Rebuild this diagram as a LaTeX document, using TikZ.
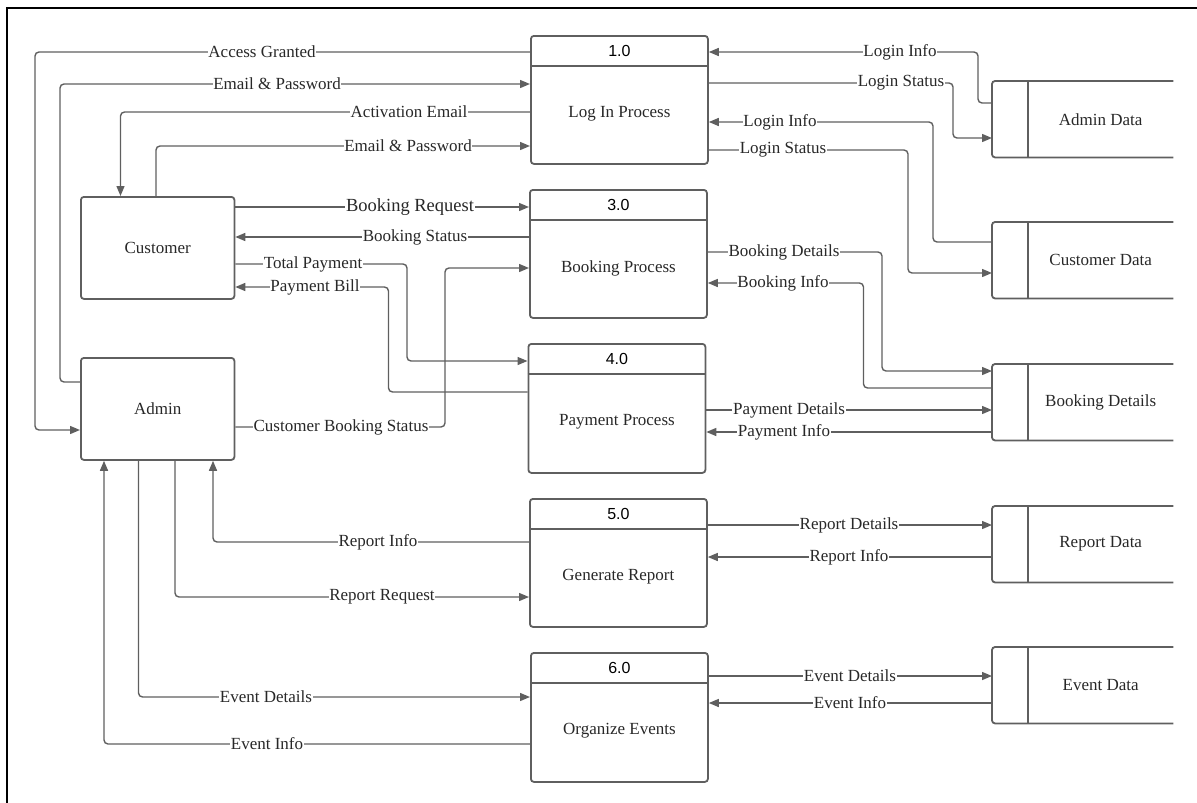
\documentclass[tikz,border=0pt]{standalone}
\usepackage{fontspec}
\setmainfont{Liberation Serif}
\newfontfamily\numfont{Liberation Sans}
\usetikzlibrary{arrows.meta,calc}
\definecolor{ln}{RGB}{95,95,95}
\definecolor{tx}{RGB}{40,40,40}
\begin{document}
\begin{tikzpicture}[x=1pt,y=-1pt,
  ent/.style={draw=ln,line width=1.8pt,rounded corners=3pt,minimum width=153.5pt,minimum height=102pt,inner sep=0pt,anchor=north west},
  proc/.style={draw=ln,line width=1.8pt,rounded corners=3pt,minimum width=177pt,minimum height=128pt,inner sep=0pt,anchor=north west},
  store/.style={minimum width=181pt,minimum height=76pt,inner sep=0pt,anchor=north west},
  sline/.style={draw=ln,line width=1.8pt,rounded corners=3pt},
  div/.style={draw=ln,line width=1.8pt},
  txt/.style={text=tx,font=\fontsize{17}{20}\selectfont,inner sep=0pt},
  num/.style={text=black,font=\numfont\fontsize{16}{19}\selectfont,inner sep=0pt},
  lbl/.style={fill=white,text=tx,font=\fontsize{17}{20}\selectfont,inner sep=0.6pt},
  flow/.style={draw=ln,line width=1.4pt,rounded corners=4pt,-{Triangle[length=10pt,width=8pt]}},
  flowplain/.style={draw=ln,line width=1.4pt,rounded corners=4pt},
]
\useasboundingbox (0,0) rectangle (1197,803);
% frame
\draw[line width=2.4pt,black] (1197,8) -- (7,8) -- (7,803);

% external entities
\node[ent] (cust) at (80,196) {};
\node[txt] (custT) at (cust.center) {Customer};
\node[ent] (admin) at (80,357) {};
\node[txt] (adminT) at (admin.center) {Admin};

% processes
\node[proc] (p1) at (530,35) {};
\node[proc] (p3) at (529,189) {};
\node[proc,minimum height=129pt] (p4) at (527.5,343) {};
\node[proc] (p5) at (529,498) {};
\node[proc,minimum height=129pt] (p6) at (530,652) {};
\foreach \p/\n/\t in {p1/1.0/Log In Process,p3/3.0/Booking Process,p4/4.0/Payment Process,p5/5.0/Generate Report,p6/6.0/Organize Events}{
  \draw[div] ($(\p.north west)+(0,31)$) -- ($(\p.north east)+(0,31)$);
  \node[num] (\p n) at ($(\p.north)+(0,15.5)$) {\n};
  \node[txt] (\p t) at ($(\p.north)+(0,79)$) {\t};
}

% data stores
\node[store] (sA) at (992,81) {};
\node[store] (sC) at (992,222) {};
\node[store] (sB) at (992,364) {};
\node[store] (sR) at (992,506) {};
\node[store] (sE) at (992,647) {};
\foreach \s/\t in {sA/Admin Data,sC/Customer Data,sB/Booking Details,sR/Report Data,sE/Event Data}{
  \draw[sline] (\s.north east) -- (\s.north west) -- (\s.south west) -- (\s.south east);
  \draw[div] ($(\s.north west)+(36,0)$) -- ($(\s.south west)+(36,0)$);
  \node[txt] (\s t) at ($(\s.center)+(18,0)$) {\t};
}

% connectors left side
\draw[flow] (p1.west |- 0,52) -- (35,52) -- (35,430) -- (admin.west |- 0,430);
\draw[flow] (admin.west |- 0,382) -- (60,382) -- (60,84) -- (p1.west |- 0,84);
\draw[flow] (p1.west |- 0,112) -- (120.5,112) -- (cust.north -| 120.5,0);
\draw[flow] (cust.north -| 156,0) -- (156,146) -- (p1.west |- 0,146);
\draw[flow] (cust.east |- 0,207) -- (p3.west |- 0,207);
\draw[flow] (p3.west |- 0,237) -- (cust.east |- 0,237);
\draw[flow] (cust.east |- 0,264) -- (407,264) -- (407,361) -- (p4.west |- 0,361);
\draw[flow] (p4.west |- 0,392) -- (388.5,392) -- (388.5,287) -- (cust.east |- 0,287);
\draw[flow] (admin.east |- 0,427) -- (445,427) -- (445,268) -- (p3.west |- 0,268);
\draw[flow] (p5.west |- 0,542) -- (213,542) -- (admin.south -| 213,0);
\draw[flow] (admin.south -| 175,0) -- (175,597) -- (p5.west |- 0,597);
\draw[flow] (admin.south -| 138.5,0) -- (138.5,697) -- (p6.west |- 0,697);
\draw[flow] (p6.west |- 0,744) -- (104,744) -- (admin.south -| 104,0);

% connectors right side
\draw[flow] (sA.west |- 0,103) -- (978,103) -- (978,52) -- (p1.east |- 0,52);
\draw[flow] (p1.east |- 0,83) -- (953,83) -- (953,138) -- (sA.west |- 0,138);
\draw[flow] (sC.west |- 0,242) -- (933,242) -- (933,122) -- (p1.east |- 0,122);
\draw[flow] (p1.east |- 0,150) -- (908,150) -- (908,273) -- (sC.west |- 0,273);
\draw[flow] (p3.east |- 0,252) -- (882,252) -- (882,371) -- (sB.west |- 0,371);
\draw[flow] (sB.west |- 0,388) -- (863.5,388) -- (863.5,283) -- (p3.east |- 0,283);
\draw[flow] (p4.east |- 0,410) -- (sB.west |- 0,410);
\draw[flow] (sB.west |- 0,432) -- (p4.east |- 0,432);
\draw[flow] (p5.east |- 0,525) -- (sR.west |- 0,525);
\draw[flow] (sR.west |- 0,557) -- (p5.east |- 0,557);
\draw[flow] (p6.east |- 0,676) -- (sE.west |- 0,676);
\draw[flow] (sE.west |- 0,703) -- (p6.east |- 0,703);

% labels
\node[lbl] (l1) at (262,52) {Access Granted};
\node[lbl] (l2) at (277,84) {Email \& Password};
\node[lbl] (l3) at (409,112) {Activation Email};
\node[lbl] (l4) at (408,146) {Email \& Password};
\node[lbl,font=\fontsize{18.5}{21}\selectfont] (l5) at (410,207) {Booking Request};
\node[lbl] (l6) at (415,237) {Booking Status};
\node[lbl] (l7) at (313,264) {Total Payment};
\node[lbl] (l8) at (315,287) {Payment Bill};
\node[lbl] (l9) at (341,427) {Customer Booking Status};
\node[lbl] (l10) at (378,542) {Report Info};
\node[lbl] (l11) at (382,597) {Report Request};
\node[lbl] (l12) at (266,697) {Event Details};
\node[lbl] (l13) at (267,744) {Event Info};
\node[lbl] (l14) at (900,52) {Login Info};
\node[lbl] (l15) at (901,83) {Login Status};
\node[lbl] (l16) at (780,122) {Login Info};
\node[lbl] (l17) at (783,150) {Login Status};
\node[lbl] (l18) at (784,252) {Booking Details};
\node[lbl] (l19) at (783,283) {Booking Info};
\node[lbl] (l20) at (789,410) {Payment Details};
\node[lbl] (l21) at (784,432) {Payment Info};
\node[lbl] (l22) at (849,525) {Report Details};
\node[lbl] (l23) at (849,557) {Report Info};
\node[lbl] (l24) at (850,676) {Event Details};
\node[lbl] (l25) at (850,703) {Event Info};
\end{tikzpicture}
\end{document}
